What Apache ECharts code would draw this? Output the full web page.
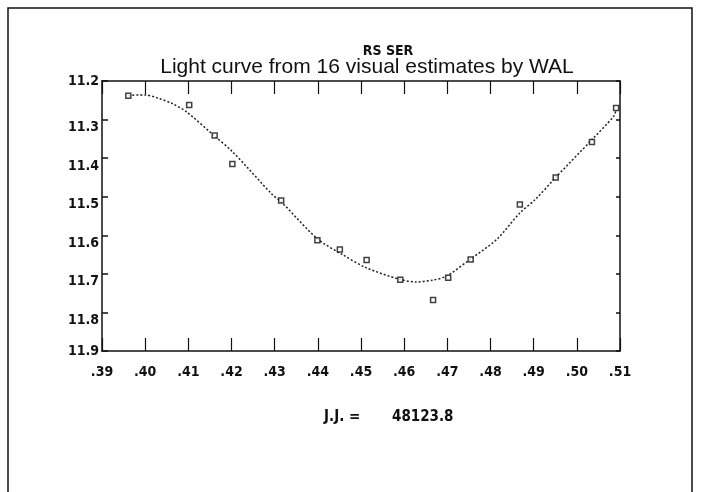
<!DOCTYPE html>
<html>
<head>
<meta charset="utf-8">
<style>
  html, body { margin: 0; padding: 0; background: #fff; }
  #chart { width: 702px; height: 492px; }
</style>
<script src="https://cdn.jsdelivr.net/npm/echarts@6/dist/echarts.min.js"></script>
</head>
<body>
<div id="chart"></div>
<script>
  // 16 visual estimates (phase in J.J. fraction, magnitude)
  const estX = [.3961, .4102, .4161, .4202, .4315, .4399, .4451, .4513, .4591, .4667, .4702, .4754, .4868, .4951, .5035, .5091]
  const estMag = [11.238, 11.262, 11.341, 11.415, 11.51, 11.613, 11.637, 11.664, 11.715, 11.768, 11.71, 11.663, 11.52, 11.45, 11.358, 11.27]

  // fitted light curve
  const fitX = [.3961, .3985, .4, .4031, .4062, .4097, .4158, .4202, .4295, .4314, .4399, .4457, .4512, .4589, .4628, .4667, .4698, .4752, .4814, .4868, .4903, .4951, .5035, .5085, .5091]
  const fitMag = [11.238, 11.236, 11.236, 11.245, 11.258, 11.281, 11.34, 11.383, 11.495, 11.512, 11.609, 11.65, 11.684, 11.714, 11.721, 11.716, 11.706, 11.663, 11.611, 11.542, 11.508, 11.45, 11.352, 11.292, 11.275]

  const titleTop = 'RS SER'
  const titleMain = 'Light curve from 16 visual estimates by WAL'
  const dateLabel = 'J.J. ='
  const dateValue = '48123.8'

  const plotFont = '"Liberation Sans Narrow", "DejaVu Sans Condensed", sans-serif'

  const chart = echarts.init(document.getElementById('chart'))

  const zip = (xs, ys) => xs.map((x, i) => [x, ys[i]])

  const boxAxisLine = { show: true, onZero: false, lineStyle: { color: '#111', width: 1.5 } }

  const option = {
    backgroundColor: '#fff',
    animation: false,
    title: [
      {
        text: titleTop,
        left: 383, top: 39, textAlign: 'center',
        textStyle: { fontFamily: plotFont, fontSize: 14, fontWeight: 'bold', color: '#111' }
      },
      {
        text: titleMain,
        left: 362, top: 52, textAlign: 'center',
        textStyle: { fontFamily: 'Liberation Sans, Arial, sans-serif', fontSize: 21, fontWeight: 'normal', color: '#111' }
      }
    ],
    grid: { left: 102, right: 82, top: 81, bottom: 141 },
    xAxis: [
      {
        type: 'value', position: 'bottom',
        min: 0.39, max: 0.51, interval: 0.01,
        axisLine: boxAxisLine,
        axisTick: { inside: true, length: 13, lineStyle: { color: '#111', width: 1.2 } },
        axisLabel: {
          margin: 14, color: '#111', fontFamily: plotFont, fontSize: 14, fontWeight: 'bold',
          showMinLabel: true, showMaxLabel: true,
          formatter: v => '.' + String(Math.round(v * 100) % 100).padStart(2, '0')
        },
        splitLine: { show: false }
      },
      {
        type: 'value', position: 'top',
        min: 0.39, max: 0.51, interval: 0.01,
        axisLine: boxAxisLine,
        axisTick: { inside: true, length: 13, lineStyle: { color: '#111', width: 1.2 } },
        axisLabel: { show: false },
        splitLine: { show: false }
      }
    ],
    yAxis: [
      {
        type: 'value', position: 'left', inverse: true,
        min: 11.2, max: 11.9, interval: 0.1,
        axisLine: boxAxisLine,
        axisTick: { inside: true, length: 6, lineStyle: { color: '#111', width: 1.5 } },
        axisLabel: {
          margin: 3, color: '#111', fontFamily: plotFont, fontSize: 14, fontWeight: 'bold',
          showMinLabel: true, showMaxLabel: true,
          formatter: v => {
            const s = v.toFixed(1)
            return (s === '11.2' || s === '11.9') ? s : '{low|' + s + '}'
          },
          rich: { low: { padding: [16, 0, 0, 0], fontFamily: plotFont, fontSize: 14, fontWeight: 'bold', color: '#111' } }
        },
        splitLine: { show: false }
      },
      {
        type: 'value', position: 'right', inverse: true,
        min: 11.2, max: 11.9, interval: 0.1,
        axisLine: boxAxisLine,
        axisTick: { inside: true, length: 4, lineStyle: { color: '#111', width: 1.5 } },
        axisLabel: { show: false },
        splitLine: { show: false }
      }
    ],
    graphic: [
      {
        type: 'rect', silent: true,
        shape: { x: 8, y: 8, width: 684, height: 500 },
        style: { fill: 'none', stroke: '#111', lineWidth: 1.5 }
      },
      {
        type: 'text', left: 324, top: 410,
        style: { text: dateLabel, fontFamily: plotFont, fontSize: 15, fontWeight: 'bold', fill: '#111' }
      },
      {
        type: 'text', left: 392, top: 410,
        style: { text: dateValue, fontFamily: plotFont, fontSize: 15, fontWeight: 'bold', fill: '#111' }
      }
    ],
    series: [
      {
        type: 'line',
        data: zip(fitX, fitMag),
        smooth: 0.3,
        showSymbol: false,
        lineStyle: { color: '#222', width: 1.5, type: [2, 2] },
        z: 2
      },
      {
        type: 'scatter',
        data: zip(estX, estMag),
        symbol: 'rect',
        symbolSize: 5,
        itemStyle: { color: '#fff', borderColor: '#111', borderWidth: 1.5 },
        z: 3
      }
    ]
  }

  chart.setOption(option)
</script>
</body>
</html>
